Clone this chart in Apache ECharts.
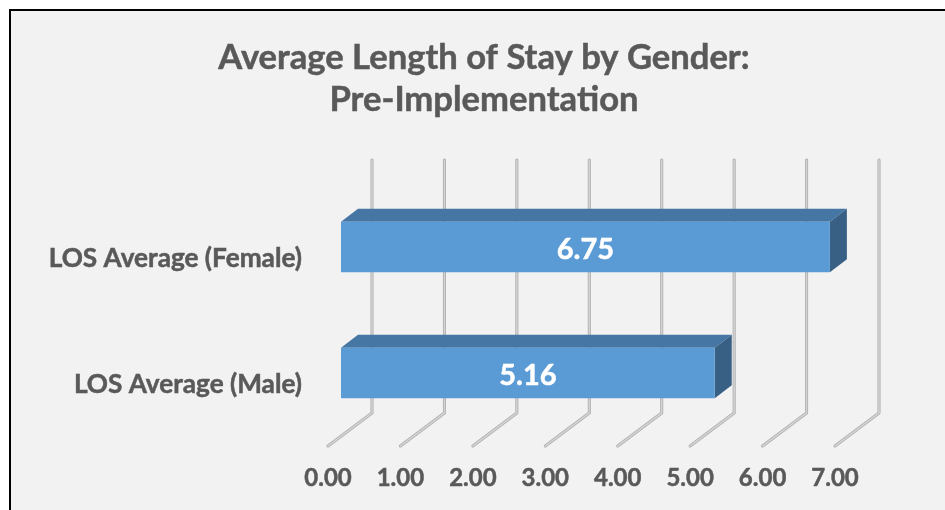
<!DOCTYPE html>
<html>
<head>
<meta charset="utf-8">
<style>html,body{margin:0;padding:0;background:#fff}#c{width:945px;height:510px}</style>
<script src="https://cdn.jsdelivr.net/npm/echarts@6/dist/echarts.min.js"></script>
</head>
<body>
<div id="c"></div>
<script>
const categories = ['LOS Average (Female)', 'LOS Average (Male)'];
const losValues = [6.75, 5.16];
const axisTicks = [0, 1, 2, 3, 4, 5, 6, 7];
const chartTitle = 'Average Length of Stay by Gender:\nPre-Implementation';

// Pseudo-3D depth of the plot: the axis sits on the front floor edge
const FLOOR_DX = 44, FLOOR_DY = 33;
const BAR_INSET_X = 13, BAR_DX = 17, BAR_DY = 13;
const INK = '#595959';
const FONT = 'Lato, "Open Sans", sans-serif';
// A hairline outline in the text colour gives the labels a heavier weight
const HEAVY = { textBorderColor: INK, textBorderWidth: 0.5 };

function renderWall(params, api) {
  const x = api.coord([api.value(0), 0])[0];
  const cs = params.coordSys;
  const front = cs.y + cs.height + 10;
  const back = front - FLOOR_DY;
  const top = cs.y - 24;
  const pts = [[x, front], [x + FLOOR_DX, back], [x + FLOOR_DX, top]];
  return {
    type: 'group',
    children: [
      { type: 'polyline', shape: { points: pts }, style: { fill: 'none', stroke: '#a8a8a8', lineWidth: 3, lineJoin: 'round', lineCap: 'round' } },
      { type: 'polyline', shape: { points: pts }, style: { fill: 'none', stroke: '#d2d2d2', lineWidth: 1.6, lineJoin: 'round', lineCap: 'round' } }
    ]
  };
}

function renderBar(params, api) {
  const v = api.value(0);
  const end = api.coord([v, api.value(1)]);
  const start = api.coord([0, api.value(1)]);
  const h = api.size([0, 1])[1] * 0.4;
  const x0 = start[0] + BAR_INSET_X, x1 = end[0] + BAR_INSET_X;
  const y0 = end[1] - h / 2, y1 = end[1] + h / 2;
  return {
    type: 'group',
    children: [
      { type: 'polygon', shape: { points: [[x0, y0], [x0 + BAR_DX, y0 - BAR_DY], [x1 + BAR_DX, y0 - BAR_DY], [x1, y0]] }, style: { fill: '#4676a3' } },
      { type: 'polygon', shape: { points: [[x1, y0], [x1 + BAR_DX, y0 - BAR_DY], [x1 + BAR_DX, y1 - BAR_DY], [x1, y1]] }, style: { fill: '#386085' } },
      { type: 'rect', shape: { x: x0, y: y0, width: x1 - x0, height: h }, style: { fill: '#5b9bd5' } },
      { type: 'text', x: (x0 + x1) / 2, y: end[1] + 3, style: { text: v.toFixed(2), fill: '#fff', stroke: '#fff', lineWidth: 0.5, font: 'bold 29px ' + FONT, align: 'center', verticalAlign: 'middle' } }
    ]
  };
}

const chart = echarts.init(document.getElementById('c'), null, { renderer: 'canvas' });
chart.setOption({
  animation: false,
  backgroundColor: '#ffffff',
  graphic: [
    { type: 'rect', z: -10, shape: { x: 10, y: 10, width: 1000, height: 600 }, style: { fill: '#f2f2f2', stroke: '#000', lineWidth: 2 } }
  ],
  title: {
    text: chartTitle,
    left: 479, top: 32, textAlign: 'center',
    textStyle: { color: INK, fontFamily: FONT, fontWeight: 'bold', fontSize: 34.6, lineHeight: 42, ...HEAVY }
  },
  grid: { left: 328, top: 184, width: 507, height: 252 },
  xAxis: {
    type: 'value', min: 0, max: 7, interval: 1,
    axisLine: { show: false }, axisTick: { show: false }, splitLine: { show: false },
    axisLabel: { margin: 30, color: INK, fontFamily: FONT, fontWeight: 'bold', fontSize: 24, formatter: v => axisTicks[v].toFixed(2), ...HEAVY }
  },
  yAxis: {
    type: 'category', data: categories, inverse: true,
    axisLine: { show: false }, axisTick: { show: false },
    axisLabel: { margin: 26, color: INK, fontFamily: FONT, fontWeight: 'bold', fontSize: 26.2, verticalAlign: 'top', lineHeight: 23, ...HEAVY }
  },
  series: [
    { type: 'custom', z: 1, silent: true, renderItem: renderWall, encode: { x: 0, y: 1 }, data: axisTicks.map(t => [t, 0]) },
    { type: 'custom', z: 2, renderItem: renderBar, encode: { x: 0, y: 1 }, data: losValues.map((v, i) => [v, i]) }
  ]
});
</script>
</body>
</html>
